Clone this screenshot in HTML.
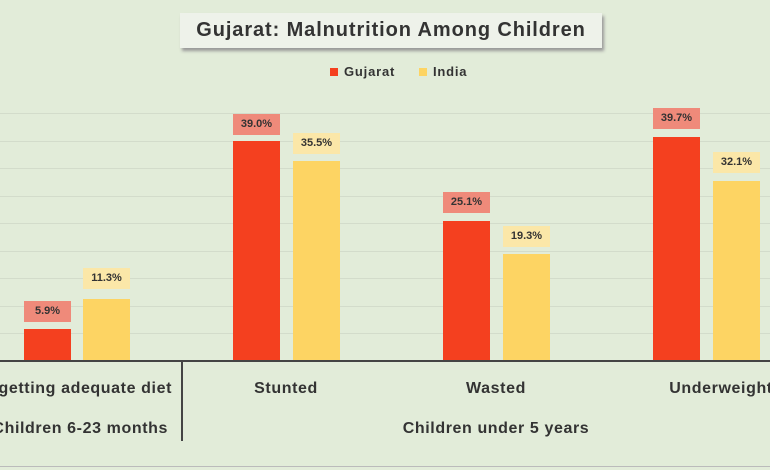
<!DOCTYPE html>
<html><head><style>
body{margin:0;width:770px;height:470px;background:#e2ecd9;font-family:"Liberation Sans",sans-serif;overflow:hidden;position:relative}
.a{position:absolute}
.g{position:absolute;left:0;width:770px;height:1px;background:#d3dccb}
.bar{position:absolute;width:47px}
.r{background:#f4401f}.y{background:#fdd463}
.lb{position:absolute;width:47px;height:21px;font-size:11px;font-weight:bold;color:#333;text-align:center;line-height:21px}
.lr{background:#ef8a7a}.ly{background:#fbe7a8}
.t{position:absolute;font-size:16px;letter-spacing:0.6px;font-weight:bold;color:#333;text-align:center;white-space:nowrap}
</style></head><body>
<div class="g" style="top:113px"></div><div class="g" style="top:141px"></div><div class="g" style="top:168px"></div><div class="g" style="top:196px"></div><div class="g" style="top:223px"></div><div class="g" style="top:251px"></div><div class="g" style="top:278px"></div><div class="g" style="top:306px"></div><div class="g" style="top:333px"></div>
<div class="a" style="left:180px;top:13px;width:422px;height:35px;background:#eef2ea;box-shadow:2px 3px 3px #999"></div>
<div class="t" style="left:180px;top:19px;width:422px;font-size:20px;letter-spacing:0.9px;color:#333">Gujarat: Malnutrition Among Children</div>
<div class="a" style="left:330px;top:68px;width:8px;height:8px;background:#f4401f"></div>
<div class="a" style="left:344px;top:64px;font-size:13px;letter-spacing:0.8px;font-weight:bold;color:#333">Gujarat</div>
<div class="a" style="left:419px;top:68px;width:8px;height:8px;background:#fdd463"></div>
<div class="a" style="left:433px;top:64px;font-size:13px;letter-spacing:0.8px;font-weight:bold;color:#333">India</div>

<div class="bar r" style="left:24px;top:329px;height:32px"></div>
<div class="lb lr" style="left:24px;top:301px">5.9%</div>
<div class="bar y" style="left:83px;top:299px;height:62px"></div>
<div class="lb ly" style="left:83px;top:268px">11.3%</div>

<div class="bar r" style="left:233px;top:141px;height:220px"></div>
<div class="lb lr" style="left:233px;top:114px">39.0%</div>
<div class="bar y" style="left:293px;top:161px;height:200px"></div>
<div class="lb ly" style="left:293px;top:133px">35.5%</div>

<div class="bar r" style="left:443px;top:221px;height:140px"></div>
<div class="lb lr" style="left:443px;top:192px">25.1%</div>
<div class="bar y" style="left:503px;top:254px;height:107px"></div>
<div class="lb ly" style="left:503px;top:226px">19.3%</div>

<div class="bar r" style="left:653px;top:137px;height:224px"></div>
<div class="lb lr" style="left:653px;top:108px">39.7%</div>
<div class="bar y" style="left:713px;top:181px;height:180px"></div>
<div class="lb ly" style="left:713px;top:152px">32.1%</div>

<div class="a" style="left:0;top:360px;width:770px;height:2px;background:#444"></div>
<div class="a" style="left:181px;top:361px;width:2px;height:80px;background:#444"></div>
<div class="t" style="left:-200px;top:380px;width:372px;text-align:right">Not getting adequate diet</div>
<div class="t" style="left:-200px;top:420px;width:368px;text-align:right">Children 6-23 months</div>
<div class="t" style="left:226px;top:380px;width:120px">Stunted</div>
<div class="t" style="left:436px;top:380px;width:120px">Wasted</div>
<div class="t" style="left:626px;top:380px;width:190px">Underweight</div>
<div class="t" style="left:346px;top:420px;width:300px">Children under 5 years</div>
<div class="a" style="left:0;top:466px;width:770px;height:1px;background:#bbb"></div>
</body></html>
